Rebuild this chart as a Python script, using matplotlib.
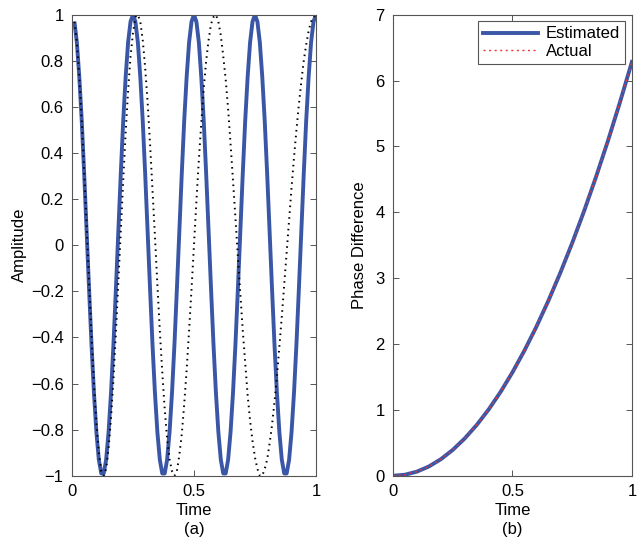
import numpy as np
import matplotlib
matplotlib.use("Agg")
import matplotlib.pyplot as plt

plt.rcParams['font.family'] = ['Liberation Sans', 'DejaVu Sans']
size_labels = 12

# ---- panel (a): sampled every 0.01 s from t=0.01 to t=1.00 ----
t_amp = np.arange(1, 101) / 100.0

estimated_signal = [
    0.97, 0.88, 0.73, 0.54, 0.31, 0.06, -0.19, -0.43, -0.64, -0.81,
    -0.93, -0.99, -0.99, -0.93, -0.81, -0.64, -0.43, -0.19, 0.06, 0.31,
    0.54, 0.73, 0.88, 0.97, 1.00, 0.97, 0.88, 0.73, 0.54, 0.31,
    0.06, -0.19, -0.43, -0.64, -0.81, -0.93, -0.99, -0.99, -0.93, -0.81,
    -0.64, -0.43, -0.19, 0.06, 0.31, 0.54, 0.73, 0.88, 0.97, 1.00,
    0.97, 0.88, 0.73, 0.54, 0.31, 0.06, -0.19, -0.43, -0.64, -0.81,
    -0.93, -0.99, -0.99, -0.93, -0.81, -0.64, -0.43, -0.19, 0.06, 0.31,
    0.54, 0.73, 0.88, 0.97, 1.00, 0.97, 0.88, 0.73, 0.54, 0.31,
    0.06, -0.19, -0.43, -0.64, -0.81, -0.93, -0.99, -0.99, -0.93, -0.81,
    -0.64, -0.43, -0.19, 0.06, 0.31, 0.54, 0.73, 0.88, 0.97, 1.00,
]

actual_signal = [
    0.97, 0.88, 0.73, 0.54, 0.32, 0.09, -0.16, -0.39, -0.60, -0.77,
    -0.90, -0.98, -1.00, -0.97, -0.88, -0.75, -0.58, -0.38, -0.16, 0.06,
    0.28, 0.49, 0.67, 0.82, 0.92, 0.99, 1.00, 0.97, 0.89, 0.77,
    0.62, 0.44, 0.24, 0.04, -0.17, -0.37, -0.55, -0.71, -0.84, -0.93,
    -0.98, -1.00, -0.98, -0.91, -0.82, -0.69, -0.54, -0.37, -0.19, 0.00,
    0.19, 0.37, 0.53, 0.68, 0.80, 0.89, 0.96, 0.99, 1.00, 0.97,
    0.91, 0.82, 0.72, 0.59, 0.44, 0.28, 0.12, -0.05, -0.21, -0.37,
    -0.51, -0.65, -0.76, -0.85, -0.92, -0.97, -1.00, -1.00, -0.97, -0.93,
    -0.86, -0.78, -0.68, -0.57, -0.44, -0.31, -0.17, -0.03, 0.11, 0.25,
    0.38, 0.50, 0.61, 0.71, 0.80, 0.87, 0.93, 0.97, 0.99, 1.00,
]

# ---- panel (b) ----
t_phase = [0.00, 0.05, 0.10, 0.15, 0.20, 0.25, 0.30, 0.35, 0.40, 0.45, 0.50,
           0.55, 0.60, 0.65, 0.70, 0.75, 0.80, 0.85, 0.90, 0.95, 1.00]
phase_estimated = [0.00, 0.016, 0.063, 0.141, 0.251, 0.393, 0.566, 0.770, 1.005,
                   1.272, 1.571, 1.901, 2.262, 2.655, 3.079, 3.534, 4.021,
                   4.540, 5.089, 5.671, 6.283]
phase_actual = [0.00, 0.016, 0.063, 0.141, 0.251, 0.393, 0.566, 0.770, 1.005,
                1.272, 1.571, 1.901, 2.262, 2.655, 3.079, 3.534, 4.021,
                4.540, 5.089, 5.671, 6.283]

blue = "#3a56a6"
edge = "#555555"

fig = plt.figure(figsize=(6.37, 5.45), dpi=100)
ax1 = fig.add_axes([0.113, 0.127, 0.383, 0.846])
ax2 = fig.add_axes([0.617, 0.127, 0.375, 0.846])

ax1.plot(t_amp, estimated_signal, color=blue, lw=2.8, solid_capstyle='butt')
ax1.plot(t_amp, actual_signal, color="k", lw=1.4, linestyle=(0, (0.8, 2.2)))
ax1.set_xlim(0, 1)
ax1.set_ylim(-1, 1)
ax1.set_xticks([0, 0.5, 1])
ax1.set_xticklabels(["0", "0.5", "1"])
ax1.set_yticks(np.arange(-1, 1.01, 0.2))
ax1.set_yticklabels(["\u22121", "\u22120.8", "\u22120.6", "\u22120.4", "\u22120.2",
                     "0", "0.2", "0.4", "0.6", "0.8", "1"])
ax1.set_ylabel("Amplitude", size=size_labels, labelpad=3)
ax1.set_xlabel("Time\n(a)", size=size_labels, labelpad=3, linespacing=1.35)

ax2.plot(t_phase, phase_estimated, color=blue, lw=2.8, label="Estimated")
ax2.plot(t_phase, phase_actual, color="#e8343a", lw=1.0, linestyle=(0, (1.5, 2.5)),
         label="Actual")
ax2.set_xlim(0, 1)
ax2.set_ylim(0, 7)
ax2.set_xticks([0, 0.5, 1])
ax2.set_xticklabels(["0", "0.5", "1"])
ax2.set_yticks(range(0, 8))
ax2.set_ylabel("Phase Difference", size=size_labels, labelpad=6)
ax2.set_xlabel("Time\n(b)", size=size_labels, labelpad=3, linespacing=1.35)
leg = ax2.legend(loc="upper right", fontsize=size_labels, fancybox=False,
                 framealpha=1, edgecolor=edge, handlelength=3.3,
                 borderaxespad=0.4, borderpad=0.3, labelspacing=0.15,
                 handletextpad=0.5)
leg.get_frame().set_linewidth(0.8)

for ax in (ax1, ax2):
    for s in ax.spines.values():
        s.set_color(edge)
        s.set_linewidth(0.8)
    ax.tick_params(direction="in", top=True, right=True, length=4,
                   width=0.7, color=edge, labelsize=size_labels, pad=6)

fig.savefig("out.png", dpi=100)
